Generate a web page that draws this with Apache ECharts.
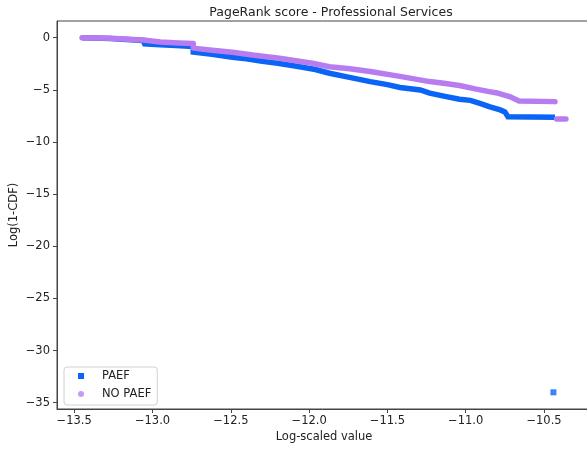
<!DOCTYPE html>
<html lang="en">
<head>
    <meta charset="UTF-8" />
    <title>PageRank score - Professional Services</title>
    <script src="https://cdn.jsdelivr.net/npm/echarts@6/dist/echarts.min.js"></script>
    <style>
        html, body { margin: 0; padding: 0; background: #fff; }
    </style>
</head>
<body>
    <div id="main" style="width: 587px; height: 456px"></div>
    <script type="text/javascript">
        // tick labels
        const xTicks = [-13.5, -13.0, -12.5, -12.0, -11.5, -11.0, -10.5];
        const yTicks = [0, -5, -10, -15, -20, -25, -30, -35];

        // PAEF curve
        const paefX = [-13.45, -13.27, -13.26, -13.06, -13.05, -12.95, -12.85, -12.74, -12.74, -12.62, -12.49, -12.40, -12.31, -12.20,
            -12.06, -11.96, -11.87, -11.75, -11.61, -11.50, -11.42, -11.29, -11.23, -11.14, -11.04, -10.97, -10.90, -10.85,
            -10.78, -10.75, -10.73, -10.43];
        const paefY = [0, -0.08, -0.22, -0.27, -0.60, -0.68, -0.76, -0.84, -1.37, -1.58, -1.88, -2.02, -2.23, -2.45,
            -2.78, -3.05, -3.41, -3.78, -4.21, -4.50, -4.77, -5.01, -5.32, -5.60, -5.90, -6.01, -6.35, -6.61,
            -6.92, -7.11, -7.59, -7.64];
        // PAEF lone point
        const paefOutX = [-10.44];
        const paefOutY = [-34.0];

        // NO PAEF curve
        const noPaefX = [-13.45, -13.27, -13.26, -13.06, -13.05, -12.95, -12.83, -12.74, -12.74, -12.62, -12.49, -12.35, -12.19,
            -11.98, -11.87, -11.74, -11.61, -11.42, -11.23, -11.14, -11.04, -10.94, -10.85, -10.79, -10.72, -10.66, -10.43];
        const noPaefY = [0, -0.05, -0.20, -0.22, -0.40, -0.41, -0.50, -0.55, -1.00, -1.20, -1.40, -1.68, -1.97,
            -2.45, -2.78, -2.98, -3.25, -3.71, -4.21, -4.36, -4.58, -4.91, -5.17, -5.33, -5.65, -6.06, -6.13];
        // NO PAEF tail
        const noPaefTailX = [-10.42, -10.36];
        const noPaefTailY = [-7.80, -7.80];

        const blue = "#0a64f5";
        const purple = "#b77cf0";

        const pairs = (xs, ys) => xs.map((x, i) => [x, ys[i]]);
        const minus = (s) => s.replace("-", "\u2212");

        let myChart = echarts.init(document.getElementById("main"));
        let options = {
            animation: false,
            backgroundColor: "#fff",
            textStyle: { fontFamily: "DejaVu Sans" },
            title: {
                text: "PageRank score - Professional Services",
                left: 326,
                textAlign: "center",
                top: 1,
                textStyle: { fontSize: 12.5, fontWeight: "normal", color: "#222", fontFamily: "DejaVu Sans" },
            },
            grid: {
                left: 57, top: 21, right: -4, bottom: 47,
                outerBoundsMode: "none",
                containLabel: false,
                show: true, borderColor: "#444", borderWidth: 1,
            },
            legend: {
                orient: "vertical",
                left: 64, top: 367,
                padding: [3, 6, 5, 14],
                itemWidth: 6, itemHeight: 6, itemGap: 6,
                borderColor: "#d0d0d0", borderWidth: 1, borderRadius: 3,
                backgroundColor: "rgba(255,255,255,0.8)",
                textStyle: { fontSize: 11.5, color: "#222", lineHeight: 11, padding: [0, 0, 0, 13] },
                data: [
                    { name: "PAEF", icon: "rect", itemStyle: { color: blue } },
                    { name: "NO PAEF", icon: "circle", itemStyle: { color: "#c59bf3" } },
                ],
            },
            xAxis: {
                type: "value",
                min: -13.61, max: -10.2,
                name: "Log-scaled value",
                nameLocation: "middle",
                nameGap: 22,
                nameMoveOverlap: false,
                nameTextStyle: { fontSize: 11.5, color: "#222" },
                splitLine: { show: false },
                axisLine: { onZero: false, lineStyle: { color: "#444" } },
                axisTick: { length: 4, lineStyle: { color: "#444" }, customValues: xTicks },
                axisLabel: {
                    fontSize: 11.5, color: "#222", margin: 6,
                    customValues: xTicks,
                    formatter: (v) => minus(v.toFixed(1)),
                },
            },
            yAxis: {
                type: "value",
                min: -35.6, max: 1.6,
                name: "Log(1-CDF)",
                nameLocation: "middle",
                nameGap: 37,
                nameMoveOverlap: false,
                nameTextStyle: { fontSize: 11.5, color: "#222" },
                splitLine: { show: false },
                axisLine: { show: true, onZero: false, lineStyle: { color: "#444" } },
                axisTick: { show: true, length: 4, lineStyle: { color: "#444" }, customValues: yTicks },
                axisLabel: {
                    fontSize: 11.5, color: "#222", margin: 7,
                    customValues: yTicks,
                    formatter: (v) => minus(String(Math.round(v))),
                },
            },
            series: [
                {
                    name: "PAEF", type: "line", symbol: "none",
                    lineStyle: { width: 5.5, color: blue, cap: "butt", join: "miter" },
                    itemStyle: { color: blue },
                    data: pairs(paefX, paefY),
                },
                {
                    name: "PAEF", type: "scatter", symbol: "rect", symbolSize: 6,
                    itemStyle: { color: blue },
                    data: pairs(paefOutX, paefOutY),
                },
                {
                    name: "NO PAEF", type: "line", symbol: "none",
                    lineStyle: { width: 5.5, color: purple, cap: "round", join: "round" },
                    itemStyle: { color: purple },
                    data: pairs(noPaefX, noPaefY),
                },
                {
                    name: "NO PAEF", type: "line", symbol: "none",
                    lineStyle: { width: 5.5, color: purple, cap: "round" },
                    itemStyle: { color: purple },
                    data: pairs(noPaefTailX, noPaefTailY),
                },
            ],
        };
        myChart.setOption(options);
    </script>
</body>
</html>
